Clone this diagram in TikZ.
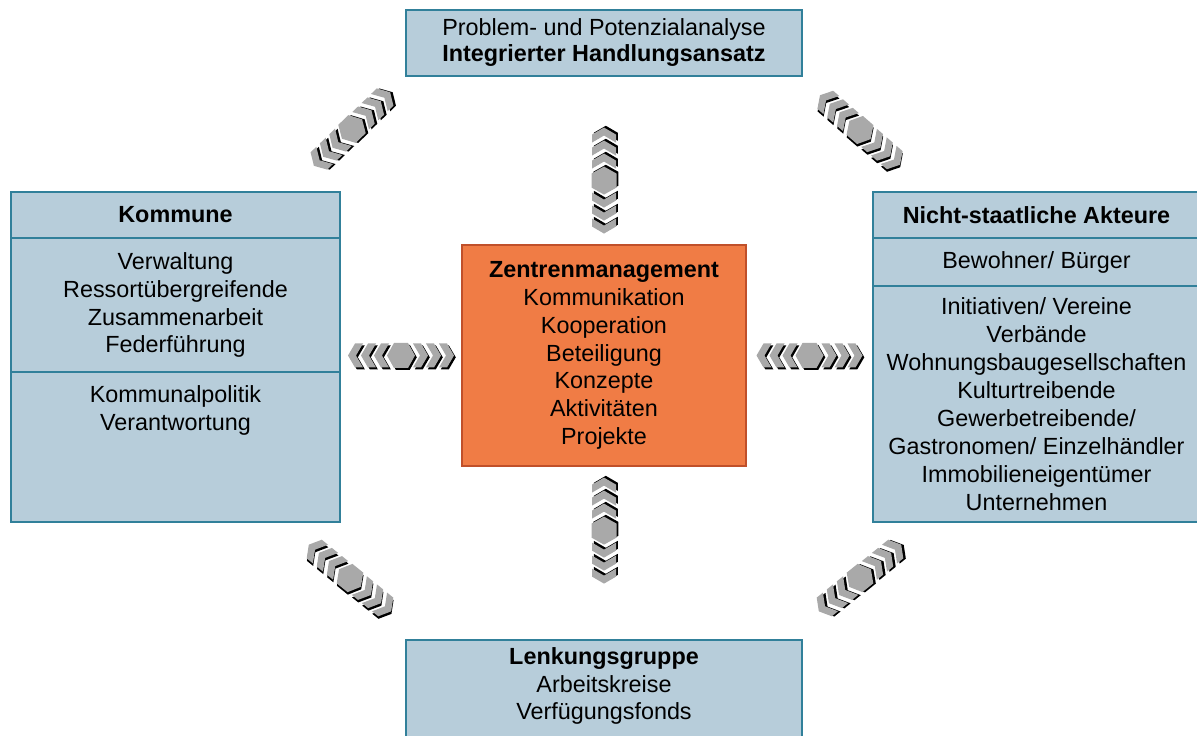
\documentclass[tikz,border=0pt]{standalone}
\usepackage{fontspec}
\setmainfont{Liberation Sans}
\usepackage{tikz}
\usetikzlibrary{shapes,arrows,positioning,calc}

\definecolor{boxfill}{HTML}{B7CDDA}
\definecolor{boxline}{HTML}{31809A}
\definecolor{zmfill}{HTML}{F07C45}
\definecolor{zmline}{HTML}{C0502A}
\definecolor{chevgray}{HTML}{A9A9A9}

% double chevron with hexagon (drawn in px units)
\tikzset{
  pics/linkchev/.style={code={
    \foreach \c/\d in {black/1.8, chevgray/0}{
      \begin{scope}[shift={(\d,\d)}]
        \fill[\c] (-14,0) -- (-7,-12.5) -- (7,-12.5) -- (14,0) -- (7,12.5) -- (-7,12.5) -- cycle;
        \foreach \s in {12,25,38}{
          \fill[\c] (\s,-12) -- ++(8,0) -- ++(7,12) -- ++(-7,12) -- ++(-8,0) -- ++(7,-12) -- cycle;
          \fill[\c] (-\s,-12) -- ++(-8,0) -- ++(-7,12) -- ++(7,12) -- ++(8,0) -- ++(-7,-12) -- cycle;
        }
      \end{scope}
    }
  }}
}

\begin{document}
\begin{tikzpicture}[x=0.02cm, y=-0.02cm]
	\tikzstyle{Box} = [draw=boxline, fill=boxfill, line width=1.1pt, inner sep=0pt, align=center, font=\fontsize{13.3}{15.9}\selectfont]
	\tikzstyle{Txt} = [inner sep=0pt, align=center, font=\fontsize{13.3}{15.9}\selectfont]
	\tikzstyle{ZM}  = [draw=zmline, fill=zmfill, line width=1.1pt, inner sep=0pt, align=center, font=\fontsize{13.3}{15.8}\selectfont, minimum width=5.68cm, minimum height=4.42cm]

	\useasboundingbox (0,0) rectangle (1197,736);

	\node (prob) at (604,43) [Box, minimum width=7.92cm, minimum height=1.32cm, font=\fontsize{13.3}{14.8}\selectfont] {Problem- und Potenzialanalyse\\\textbf{Integrierter Handlungsansatz}};

	\node (komhead) at (175.5,215) [Box, minimum width=6.58cm, minimum height=0.92cm] {\textbf{Kommune}};
	\node (komverw) at (175.5,305) [Box, minimum width=6.58cm, minimum height=2.68cm] {Verwaltung\\Ressortübergreifende\\Zusammenarbeit\\Federführung};
	\node (kompol) at (175.5,447) [Box, minimum width=6.58cm, minimum height=3.0cm] {};
	\node (kompoltxt) at (175.5,410) [Txt] {Kommunalpolitik\\Verantwortung};

	\node (nsahead) at (1036.5,215) [Box, minimum width=6.54cm, minimum height=0.92cm] {\textbf{Nicht-staatliche Akteure}};
	\node (nsabew) at (1036.5,262) [Box, minimum width=6.54cm, minimum height=0.96cm] {Bewohner/ Bürger};
	\node (nsarest) at (1036.5,404) [Box, minimum width=6.54cm, minimum height=4.72cm] {Initiativen/ Vereine\\Verbände\\Wohnungsbaugesellschaften\\Kulturtreibende\\Gewerbetreibende/\\Gastronomen/ Einzelhändler\\Immobilieneigentümer\\Unternehmen};

	\node (zm) at (604,355.5) [ZM] {\textbf{Zentrenmanagement}\\Kommunikation\\Kooperation\\Beteiligung\\Konzepte\\Aktivitäten\\Projekte};

	\node (lenk) at (604,692) [Box, minimum width=7.92cm, minimum height=2.08cm] {};
	\node (lenktxt) at (604,686) [Txt] {\textbf{Lenkungsgruppe}\\Arbeitskreise\\Verfügungsfonds};

	\pic at ($(komverw.east |- zm.west)!0.5!(zm.west)$) {linkchev};
	\pic at ($(zm.east)!0.5!(nsarest.west |- zm.east)$) {linkchev};
	\pic[rotate=90] at ($(prob.south)!0.62!(zm.north)$) {linkchev};
	\pic[rotate=90] at ($(zm.south)!0.37!(lenk.north)$) {linkchev};
	\pic[rotate=44] at (352,129) {linkchev};
	\pic[rotate=-41] at (860,130) {linkchev};
	\pic[rotate=-39] at (350,578) {linkchev};
	\pic[rotate=39] at (860,578) {linkchev};
\end{tikzpicture}
\end{document}
